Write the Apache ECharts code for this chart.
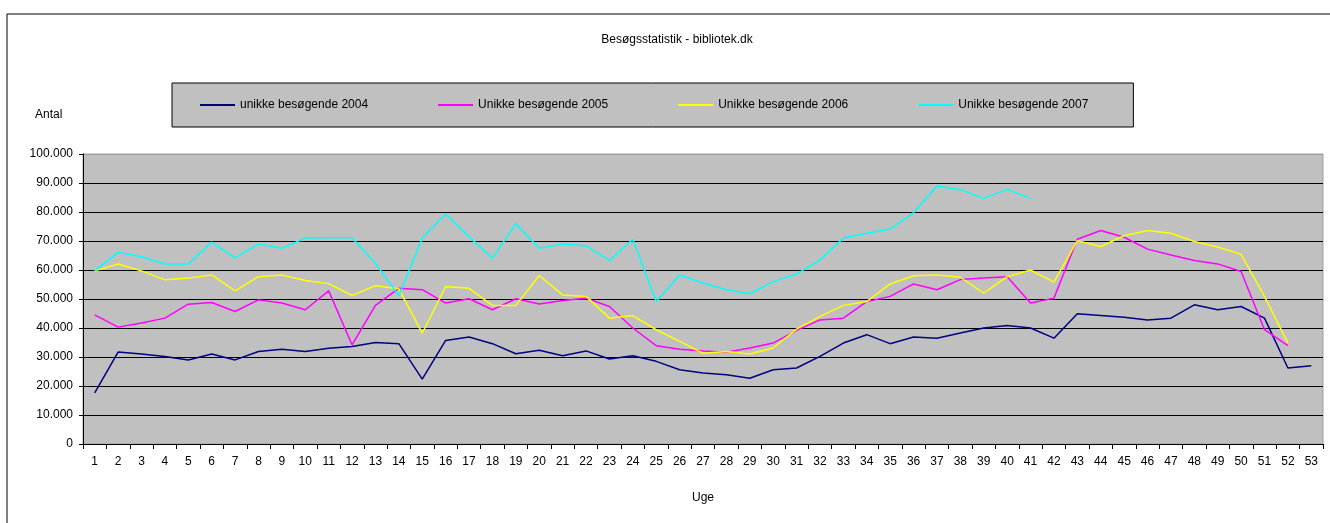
<!DOCTYPE html>
<html>
<head>
<meta charset="utf-8">
<script src="https://cdn.jsdelivr.net/npm/echarts@6/dist/echarts.min.js"></script>
<style>
  html, body { margin: 0; padding: 0; background: #fff; }
  #chart { width: 1330px; height: 523px; }
</style>
</head>
<body>
<div id="chart"></div>
<script>
var weeks = []
for (var w = 1; w <= 53; w++) weeks.push(String(w))

var seriesNames = ['unikke besøgende 2004', 'Unikke besøgende 2005', 'Unikke besøgende 2006', 'Unikke besøgende 2007']

var visits2004 = [17600, 31700, 31000, 30200, 29000, 31000, 29000, 31900, 32700, 31900,
  33000, 33600, 35000, 34600, 22400, 35700, 36900, 34600, 31100, 32300,
  30400, 32100, 29300, 30400, 28500, 25600, 24500, 23900, 22700, 25600,
  26200, 30200, 34800, 37700, 34600, 36900, 36500, 38300, 40000, 40900,
  40000, 36500, 44900, 44300, 43700, 42800, 43400, 48000, 46300, 47400,
  43400, 26200, 27000]

var visits2005 = [44500, 40300, 41700, 43400, 48200, 48800, 45700, 49700, 48600, 46300,
  52800, 34200, 47800, 53700, 53200, 48600, 50100, 46300, 50100, 48300,
  49500, 50300, 47400, 40000, 33900, 32700, 32100, 31600, 33100, 34800,
  39200, 42800, 43400, 49100, 50900, 55200, 53200, 56700, 57200, 57700,
  48600, 50300, 70600, 73600, 71300, 67200, 65200, 63300, 62100, 59500,
  39400, 33900, null]

var visits2006 = [59700, 62100, 59700, 56600, 57200, 58300, 52800, 57700, 58300, 56400,
  55300, 51200, 54600, 53500, 38200, 54300, 53700, 47800, 47800, 58100,
  51400, 50900, 43400, 44300, 39400, 35400, 31300, 31900, 31000, 33100,
  39600, 44000, 47800, 49100, 55200, 58000, 58300, 57500, 52000, 57700,
  60000, 55800, 70100, 68100, 71800, 73600, 72700, 69800, 67900, 65400,
  50900, 34800, null]

var visits2007 = [59700, 66100, 64600, 62100, 62100, 69600, 64200, 69000, 67500, 71000,
  71100, 71100, 62300, 51100, 71000, 79300, 71500, 64100, 75900, 67500,
  69000, 68300, 63300, 70600, 49100, 58300, 55500, 53200, 51800, 56000,
  58600, 63500, 71000, 72700, 74100, 79800, 89000, 87700, 84700, 87800,
  84700, null, null, null, null, null, null, null, null, null,
  null, null, null]

var lineColors = ['#000080', '#ff00ff', '#ffff00', '#00ffff']
var yTicks = [0, 10000, 20000, 30000, 40000, 50000, 60000, 70000, 80000, 90000, 100000]

var font = 'Liberation Sans, Arial, sans-serif'

function fmt (v) {
  return String(v).replace(/\B(?=(\d{3})+(?!\d))/g, '.')
}

var allData = [visits2004, visits2005, visits2006, visits2007]
var series = allData.map(function (d, i) {
  return {
    name: seriesNames[i],
    type: 'line',
    data: d,
    symbol: 'none',
    silent: true,
    lineStyle: {color: lineColors[i], width: 1.5},
    itemStyle: {color: lineColors[i]}
  }
})

var option = {
  animation: false,
  textStyle: {fontFamily: font},
  title: {
    text: 'Besøgsstatistik - bibliotek.dk',
    left: 672,
    textAlign: 'center',
    top: 29,
    textStyle: {fontSize: 12, fontWeight: 'normal', color: '#000', fontFamily: font}
  },
  legend: {
    left: 172,
    top: 83,
    padding: [16, 45, 16, 28],
    backgroundColor: '#c0c0c0',
    borderColor: '#000',
    borderWidth: 1,
    borderRadius: 0,
    icon: 'rect',
    itemWidth: 35,
    itemHeight: 2,
    itemGap: 70,
    selectedMode: false,
    data: seriesNames,
    textStyle: {fontSize: 12, color: '#000', fontFamily: font}
  },
  graphic: [
    {type: 'rect', shape: {x: 7, y: 14, width: 1340, height: 530}, style: {fill: 'none', stroke: '#000', lineWidth: 1}, silent: true},
    {type: 'text', left: 35, top: 109, style: {text: 'Antal', fontSize: 12, fill: '#000', fontFamily: font}}
  ],
  grid: {
    left: 83,
    right: 7,
    top: 154,
    bottom: 79,
    show: true,
    backgroundColor: '#c0c0c0',
    borderColor: '#a0a0a0',
    borderWidth: 1
  },
  xAxis: {
    type: 'category',
    data: weeks,
    boundaryGap: true,
    name: 'Uge',
    nameLocation: 'middle',
    nameGap: 48,
    nameTextStyle: {fontSize: 12, color: '#000'},
    axisLine: {lineStyle: {color: '#000', width: 1}},
    axisTick: {show: true, length: 5, lineStyle: {color: '#000'}},
    axisLabel: {interval: 0, color: '#000', fontSize: 12, margin: 12}
  },
  yAxis: {
    type: 'value',
    min: 0,
    max: 100000,
    interval: 10000,
    axisLine: {show: true, lineStyle: {color: '#000', width: 1}},
    axisTick: {show: true, length: 4, lineStyle: {color: '#000'}},
    axisLabel: {color: '#000', fontSize: 12, margin: 10, formatter: fmt},
    splitLine: {
      show: true,
      lineStyle: {
        color: yTicks.map(function (t, i) { return i === yTicks.length - 1 ? '#a0a0a0' : '#000' }),
        width: 1
      }
    }
  },
  series: series
}

echarts.init(document.getElementById('chart')).setOption(option)
</script>
</body>
</html>
